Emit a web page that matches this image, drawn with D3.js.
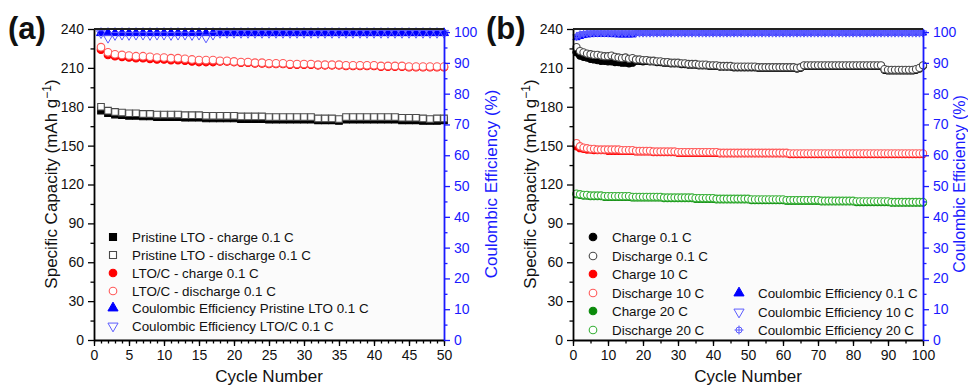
<!DOCTYPE html>
<html>
<head>
<meta charset="utf-8">
<script src="https://cdn.jsdelivr.net/npm/d3@7"></script>
<style>
body { margin: 0; background: #fff; }
text { font-family: "Liberation Sans", Arial, sans-serif; }
</style>
</head>
<body>
<div id="chart"></div>
<script>
// ---- panel (a) data, cycles 1-50 ----
var aPristineCha = [177,175,174,173.5,173,173,172.5,172.5,172,172,
  172,172,171.5,171.5,171.5,171,171,171,171,171,
  170.5,170.5,170.5,170.5,170,170,170,170,170,170,
  170,169.5,169.5,169.5,169,170,170,170,170,170,
  170,170,170,169.5,169.5,169.5,169,169,169,169.5];
var aPristineDis = [180,177,176,175.5,175,175,174.5,174.5,174,174,
  174,174,173.5,173.5,173.5,173,173,173,173,173,
  172.5,172.5,172.5,172.5,172,172,172,172,172,172,
  172,171,171,171,170.5,172,172,172,172,172,
  172,172,172,171.5,171.5,171.5,171,170.5,171,171];
var aCarbonCha = [224,220,219,218.5,218,217.5,217.5,217,216.5,216.5,
  216,216,215.5,215,214.5,214.5,214.5,215,215,214.5,
  214,214,213.5,213.5,213,213,213,212.5,212.5,212.5,
  212.5,212,212,212,212,211.5,211.5,211.5,211.5,211.5,
  211,211,211,211,210.5,210.5,210.5,210.5,210.5,210.5];
var aCarbonDis = [226,222,220.5,220,219.5,219,219,218.5,218,218,
  217.5,217.5,217,216.5,216,216,216,215.5,215.5,215,
  214.5,214.5,214,214,213.5,213.5,213.5,213,213,213,
  213,212.5,212.5,212.5,212.5,212,212,212,212,212,
  211.5,211.5,211.5,211.5,211,211,211,211,211,211];
var aPristineCE = [99.7,99.7,99.7,99.7,99.7,99.7,99.7,99.7,99.7,99.7,
  99.7,99.7,99.7,99.7,99.7,99.7,99.7,99.7,99.7,99.7,
  99.7,99.7,99.7,99.7,99.7,99.7,99.7,99.7,99.7,99.7,
  99.7,99.7,99.7,99.7,99.7,99.7,99.7,99.7,99.7,99.7,
  99.7,99.7,99.7,99.7,99.7,99.7,99.7,99.7,99.7,99.7];
var aCarbonCE = [99.6,98.1,99,99.1,99,99.1,99.1,99,99.1,99.1,
  99,99.1,99.1,99,99.1,98.2,99.1,99.7,99.7,99.7,
  99.7,99.7,99.7,99.7,99.7,99.7,99.7,99.7,99.7,99.7,
  99.7,99.7,99.7,99.7,99.7,99.7,99.7,99.7,99.7,99.7,
  99.7,99.7,99.7,99.7,99.7,99.7,99.7,99.7,99.7,99.7];

// ---- panel (b) data, cycles 1-100 ----
var bCha01 = [222,219.5,218.5,218,217,216.5,216,215.5,215.5,215,
  215,214.5,214.5,214,214,213.5,214,215.5,215.5,215,
  215.5,215,215,214.5,214.5,214,214,213.5,213.5,213.5,
  213,213,212.5,212.5,212.5,212,212,212,211.5,211.5,
  211.5,211,211,211,211,210.5,210.5,210.5,210.5,210.5,
  210.5,210.5,210,210,210,210,210,210,210,210,
  210,210,210,209.5,210,211.5,211.5,211.5,211.5,211.5,
  211.5,211.5,211.5,211.5,211.5,211.5,211.5,211.5,211.5,211.5,
  211.5,211.5,211.5,211.5,211.5,211.5,211.5,211.5,208.5,208,
  208,208,208,208,208,208,208,208.5,209.5,211.5];
var bDis01 = [226,223,222,221,220.5,220,220,219.5,219,219,
  219.5,218.5,218,217.5,218,217,217.5,216.5,216.5,216,
  216,215.5,215.5,215,215,214.5,214.5,214,214,214,
  213.5,213.5,213,213,213,212.5,212.5,212.5,212,212,
  212,211.5,211.5,211.5,211.5,211,211,211,211,211,
  211,211,210.5,210.5,210.5,210.5,210.5,210.5,210.5,210.5,
  210.5,210.5,210.5,210,210.5,212,212,212,212,212,
  212,212,212,212,212,212,212,212,212,212,
  212,212,212,212,212,212,212,212,209,208.5,
  208.5,208.5,208.5,208.5,208.5,208.5,208.5,209,210,212];
var bCha10 = [149.5,148,147.5,147,147,146.5,146.5,146.5,146.5,146,
  146,146,146,146,146,146,146,145.5,145.5,145.5,
  145.5,145.5,145,145,145,145,145,145,145,144.5,
  144.5,144.5,144.5,144.5,144.5,144.5,144.5,144.5,144.5,144.5,
  144.5,144,144,144,144,144,144,144,144,144,
  144,144,144,144,144,144,144,144,144,144,
  144,143.5,143.5,143.5,143.5,143.5,143.5,143.5,143.5,143.5,
  143.5,143.5,143.5,143.5,143.5,143.5,143.5,143.5,143.5,143.5,
  143.5,143.5,143.5,143.5,143.5,143.5,143.5,143.5,143.5,143.5,
  143.5,143.5,143.5,143.5,143.5,143.5,143.5,143.5,143.5,143.5];
var bDis10 = [152,149.5,148.5,148,147.5,147.5,147,147,147,147,
  147,147,147,146.5,146.5,146.5,146.5,146,146,146,
  146,146,145.5,145.5,145.5,145.5,145.5,145.5,145.5,145,
  145,145,145,145,145,145,145,145,145,145,
  145,144.5,144.5,144.5,144.5,144.5,144.5,144.5,144.5,144.5,
  144.5,144.5,144.5,144.5,144.5,144.5,144.5,144.5,144.5,144.5,
  144.5,144,144,144,144,144,144,144,144,144,
  144,144,144,144,144,144,144,144,144,144,
  144,144,144,144,144,144,144,144,144,144,
  144,144,144,144,144,144,144,144,144,144];
var bCha20 = [112.5,112,111.5,111.5,111,111,111,111,110.5,110.5,
  110.5,110.5,110.5,110.5,110.5,110.5,110,110,110,110,
  110,110,110,110,110,109.5,109.5,109.5,109.5,109.5,
  109.5,109.5,109.5,109.5,109,109,109,109,109,109,
  108.5,108.5,108.5,108.5,108.5,108.5,108.5,108.5,108.5,108.5,
  108,108,108,108,108,108,108,108,108,108,
  107.5,107.5,107.5,107.5,107.5,107.5,107.5,107.5,107.5,107.5,
  107,107,107,107,107,107,107,107,107,107,
  106.5,106.5,106.5,106.5,106.5,106.5,106.5,106.5,106.5,106.5,
  106,106,106,106,106,106,106,106,106,106];
var bDis20 = [113,112.5,112,112,111.5,111.5,111.5,111.5,111,111,
  111,111,111,111,111,111,110.5,110.5,110.5,110.5,
  110.5,110.5,110.5,110.5,110.5,110,110,110,110,110,
  110,110,110,110,109.5,109.5,109.5,109.5,109.5,109.5,
  109,109,109,109,109,109,109,109,109,109,
  108.5,108.5,108.5,108.5,108.5,108.5,108.5,108.5,108.5,108.5,
  108,108,108,108,108,108,108,108,108,108,
  107.5,107.5,107.5,107.5,107.5,107.5,107.5,107.5,107.5,107.5,
  107,107,107,107,107,107,107,107,107,107,
  106.5,106.5,106.5,106.5,106.5,106.5,106.5,106.5,106.5,106.5];
var bCE01 = [98.2,98.6,98.9,99.1,99.2,99.3,99.3,99.3,99.3,99.3,
  99.2,99.2,99.1,99.1,99.1,99.1,99.1,99.7,99.7,99.7,
  99.7,99.7,99.7,99.7,99.7,99.7,99.7,99.7,99.7,99.7,
  99.7,99.7,99.7,99.7,99.7,99.7,99.7,99.7,99.7,99.7,
  99.7,99.7,99.7,99.7,99.7,99.7,99.7,99.7,99.7,99.7,
  99.7,99.7,99.7,99.7,99.7,99.7,99.7,99.7,99.7,99.7,
  99.7,99.7,99.7,99.7,99.7,99.7,99.7,99.7,99.7,99.7,
  99.7,99.7,99.7,99.7,99.7,99.7,99.7,99.7,99.7,99.7,
  99.7,99.7,99.7,99.7,99.7,99.7,99.7,99.7,99.7,99.7,
  99.7,99.7,99.7,99.7,99.7,99.7,99.7,99.7,99.7,99.7];
var bCE10 = [98.5,99.2,99.5,99.6,99.7,99.7,99.7,99.7,99.7,99.7,
  99.7,99.7,99.7,99.7,99.7,99.7,99.7,99.7,99.7,99.7,
  99.7,99.7,99.7,99.7,99.7,99.7,99.7,99.7,99.7,99.7,
  99.7,99.7,99.7,99.7,99.7,99.7,99.7,99.7,99.7,99.7,
  99.7,99.7,99.7,99.7,99.7,99.7,99.7,99.7,99.7,99.7,
  99.7,99.7,99.7,99.7,99.7,99.7,99.7,99.7,99.7,99.7,
  99.7,99.7,99.7,99.7,99.7,99.7,99.7,99.7,99.7,99.7,
  99.7,99.7,99.7,99.7,99.7,99.7,99.7,99.7,99.7,99.7,
  99.7,99.7,99.7,99.7,99.7,99.7,99.7,99.7,99.7,99.7,
  99.7,99.7,99.7,99.7,99.7,99.7,99.7,99.7,99.7,99.7];
var bCE20 = [98.8,99.4,99.6,99.7,99.7,99.7,99.7,99.7,99.7,99.7,
  99.7,99.7,99.7,99.7,99.7,99.7,99.7,99.7,99.7,99.7,
  99.7,99.7,99.7,99.7,99.7,99.7,99.7,99.7,99.7,99.7,
  99.7,99.7,99.7,99.7,99.7,99.7,99.7,99.7,99.7,99.7,
  99.7,99.7,99.7,99.7,99.7,99.7,99.7,99.7,99.7,99.7,
  99.7,99.7,99.7,99.7,99.7,99.7,99.7,99.7,99.7,99.7,
  99.7,99.7,99.7,99.7,99.7,99.7,99.7,99.7,99.7,99.7,
  99.7,99.7,99.7,99.7,99.7,99.7,99.7,99.7,99.7,99.7,
  99.7,99.7,99.7,99.7,99.7,99.7,99.7,99.7,99.7,99.7,
  99.7,99.7,99.7,99.7,99.7,99.7,99.7,99.7,99.7,99.7];

var capTicks = [0, 30, 60, 90, 120, 150, 180, 210, 240];
var ceTicks = [0, 10, 20, 30, 40, 50, 60, 70, 80, 90, 100];

var svg = d3.select("#chart").append("svg")
    .attr("width", 968).attr("height", 387);

var blue = "#1a1aff";

function marker(g, shape, x, y, color, filled, size) {
    var fill = filled ? color : (shape == "tri" || shape == "tridown" || shape == "cross" ? "none" : "#fff");
    if (shape == "circle") {
        g.append("circle").attr("cx", x).attr("cy", y).attr("r", size)
            .attr("fill", fill).attr("stroke", color).attr("stroke-width", 1.1);
    } else if (shape == "square") {
        g.append("path").attr("d", d3.symbol().type(d3.symbolSquare).size(size * size * 4)())
            .attr("transform", "translate(" + x + "," + y + ")")
            .attr("fill", fill).attr("stroke", color).attr("stroke-width", 1.1);
    } else if (shape == "tri" || shape == "tridown") {
        g.append("path").attr("d", d3.symbol().type(d3.symbolTriangle).size(size * size * 2.2)())
            .attr("transform", "translate(" + x + "," + y + ")" + (shape == "tridown" ? " rotate(180)" : ""))
            .attr("fill", fill).attr("stroke", color).attr("stroke-width", 1);
    } else if (shape == "cross") {
        g.append("circle").attr("cx", x).attr("cy", y).attr("r", size)
            .attr("fill", "none").attr("stroke", color).attr("stroke-width", 1);
        g.append("path").attr("d", "M" + (x - size - 1.5) + "," + y + "H" + (x + size + 1.5) + "M" + x + "," + (y - size - 1.5) + "V" + (y + size + 1.5))
            .attr("stroke", color).attr("stroke-width", 1);
    }
}

function drawPanel(p) {
    var x = d3.scaleLinear().domain([0, p.xMax]).range([p.left, p.right]);
    var y = d3.scaleLinear().domain([0, 240]).range([340, 29]);
    var y2 = d3.scaleLinear().domain([0, 101]).range([340, 29]);

    svg.append("rect").attr("x", p.left).attr("y", 29)
        .attr("width", p.right - p.left).attr("height", 311).attr("fill", "#fbfbfb");

    // series
    var cycles = d3.range(1, p.xMax + 1);
    p.series.forEach(function (s) {
        var g = svg.append("g");
        var sc = s.ce ? y2 : y;
        s.data.forEach(function (v, i) {
            marker(g, s.shape, x(cycles[i]), sc(v), s.color, s.filled, s.size);
        });
    });

    // minor ticks
    var minorX = d3.range(0, p.xMax + 0.001, p.xMinor);
    svg.append("g").attr("transform", "translate(0,340)")
        .call(d3.axisBottom(x).tickValues(minorX).tickSize(3.5).tickFormat(""))
        .call(function (g) { g.select(".domain").remove(); g.selectAll("line").attr("stroke-width", 1.3); });
    svg.append("g").attr("transform", "translate(" + p.left + ",0)")
        .call(d3.axisLeft(y).tickValues(d3.range(15, 240, 30)).tickSize(3.5).tickFormat(""))
        .call(function (g) { g.select(".domain").remove(); g.selectAll("line").attr("stroke-width", 1.3); });
    svg.append("g").attr("transform", "translate(" + p.right + ",0)")
        .call(d3.axisRight(y2).tickValues(d3.range(5, 100, 10)).tickSize(3.5).tickFormat(""))
        .call(function (g) { g.select(".domain").remove(); g.selectAll("line").attr("stroke", blue).attr("stroke-width", 1.3); });

    // major axes
    var xa = svg.append("g").attr("transform", "translate(0,340)")
        .call(d3.axisBottom(x).tickValues(p.xTicks).tickSize(6).tickSizeOuter(0).tickPadding(4));
    var ya = svg.append("g").attr("transform", "translate(" + p.left + ",0)")
        .call(d3.axisLeft(y).tickValues(capTicks).tickSize(6).tickSizeOuter(0).tickPadding(4));
    var ra = svg.append("g").attr("transform", "translate(" + p.right + ",0)")
        .call(d3.axisRight(y2).tickValues(ceTicks).tickSize(6).tickSizeOuter(0).tickPadding(4));
    [xa, ya].forEach(function (a) {
        a.selectAll("text").attr("font-size", 14).attr("fill", "#111")
            .style("font-family", "'Liberation Sans', Arial, sans-serif");
        a.selectAll("line").attr("stroke-width", 1.3);
        a.select(".domain").attr("stroke-width", 1.8);
    });
    ra.selectAll("text").attr("font-size", 14).attr("fill", blue)
        .style("font-family", "'Liberation Sans', Arial, sans-serif");
    ra.selectAll("line").attr("stroke", blue).attr("stroke-width", 1.3);
    ra.select(".domain").attr("stroke", blue).attr("stroke-width", 1.8);

    svg.append("line").attr("x1", p.left).attr("x2", p.right).attr("y1", 29).attr("y2", 29)
        .attr("stroke", "#222").attr("stroke-width", 1.8);

    // titles
    svg.append("text").attr("x", (p.left + p.right) / 2).attr("y", 382)
        .attr("text-anchor", "middle").attr("font-size", 17).attr("fill", "#111").text("Cycle Number");
    var yt = svg.append("text").attr("transform", "translate(" + p.ylabX + ",184) rotate(-90)")
        .attr("text-anchor", "middle").attr("font-size", 17).attr("fill", "#111");
    yt.append("tspan").text("Specific Capacity (mAh g");
    yt.append("tspan").attr("dy", -6).attr("font-size", 12).text("\u22121");
    yt.append("tspan").attr("dy", 6).text(")");
    svg.append("text").attr("transform", "translate(" + p.y2labX + ",184) rotate(-90)")
        .attr("text-anchor", "middle").attr("font-size", p.y2labSize).attr("fill", blue)
        .text("Coulombic Efficiency (%)");
    svg.append("text").attr("x", p.tagX).attr("y", 39).attr("font-size", 31)
        .attr("font-weight", "bold").attr("fill", "#111").text(p.tag);

    // legend
    p.legend.forEach(function (l) {
        var g = svg.append("g");
        marker(g, l.shape, l.x, l.y, l.color, l.filled, l.size);
        g.append("text").attr("x", l.x + 19).attr("y", l.y + 5).attr("font-size", 13.4)
            .attr("fill", "#111").text(l.text);
    });
}

var cBlack = "#000", cGray = "#4a4a4a", cRed = "#ff0000", cRedO = "#ff5a5a",
    cGreen = "#0a8a0a", cGreenO = "#38b038", cBlueO = "#5c5cff";

drawPanel({
    left: 94, right: 444, xMax: 50, xMinor: 1, xTicks: d3.range(0, 51, 5),
    ylabX: 57, y2labX: 497, y2labSize: 17, tagX: 8, tag: "(a)",
    series: [
        { data: aPristineCha, shape: "square", color: cBlack, filled: true, size: 3.3 },
        { data: aPristineDis, shape: "square", color: cGray, filled: false, size: 3.3 },
        { data: aCarbonCha, shape: "circle", color: cRed, filled: true, size: 3.8 },
        { data: aCarbonDis, shape: "circle", color: cRedO, filled: false, size: 3.8 },
        { data: aPristineCE, shape: "tri", color: "#0000ff", filled: true, size: 4, ce: true },
        { data: aCarbonCE, shape: "tridown", color: cBlueO, filled: false, size: 4, ce: true }
    ],
    legend: [
        { text: "Pristine LTO - charge 0.1 C", shape: "square", color: cBlack, filled: true, size: 3.5, x: 113, y: 237 },
        { text: "Pristine LTO - discharge 0.1 C", shape: "square", color: cGray, filled: false, size: 3.5, x: 113, y: 255 },
        { text: "LTO/C - charge 0.1 C", shape: "circle", color: cRed, filled: true, size: 3.8, x: 113, y: 273 },
        { text: "LTO/C - discharge 0.1 C", shape: "circle", color: cRedO, filled: false, size: 3.8, x: 113, y: 291 },
        { text: "Coulombic Efficiency Pristine LTO 0.1 C", shape: "tri", color: "#0000ff", filled: true, size: 4.5, x: 113, y: 308 },
        { text: "Coulombic Efficiency LTO/C 0.1 C", shape: "tridown", color: cBlueO, filled: false, size: 4.5, x: 113, y: 326 }
    ]
});

drawPanel({
    left: 573, right: 923, xMax: 100, xMinor: 5, xTicks: d3.range(0, 101, 10),
    ylabX: 536, y2labX: 965, y2labSize: 16, tagX: 486, tag: "(b)",
    series: [
        { data: bCha01, shape: "circle", color: cBlack, filled: true, size: 3.6 },
        { data: bDis01, shape: "circle", color: cGray, filled: false, size: 3.6 },
        { data: bCha10, shape: "circle", color: cRed, filled: true, size: 3.6 },
        { data: bDis10, shape: "circle", color: cRedO, filled: false, size: 3.6 },
        { data: bCha20, shape: "circle", color: cGreen, filled: true, size: 3.6 },
        { data: bDis20, shape: "circle", color: cGreenO, filled: false, size: 3.6 },
        { data: bCE01, shape: "tri", color: "#0000ff", filled: true, size: 3.2, ce: true },
        { data: bCE10, shape: "tridown", color: cBlueO, filled: false, size: 3.2, ce: true },
        { data: bCE20, shape: "cross", color: cBlueO, filled: false, size: 2.2, ce: true }
    ],
    legend: [
        { text: "Charge 0.1 C", shape: "circle", color: cBlack, filled: true, size: 3.8, x: 593, y: 237 },
        { text: "Discharge 0.1 C", shape: "circle", color: cGray, filled: false, size: 3.8, x: 593, y: 256 },
        { text: "Charge 10 C", shape: "circle", color: cRed, filled: true, size: 3.8, x: 593, y: 274 },
        { text: "Discharge 10 C", shape: "circle", color: cRedO, filled: false, size: 3.8, x: 593, y: 293 },
        { text: "Charge 20 C", shape: "circle", color: cGreen, filled: true, size: 3.8, x: 593, y: 311 },
        { text: "Discharge 20 C", shape: "circle", color: cGreenO, filled: false, size: 3.8, x: 593, y: 330 },
        { text: "Coulombic Efficiency 0.1 C", shape: "tri", color: "#0000ff", filled: true, size: 4.5, x: 739, y: 293 },
        { text: "Coulombic Efficiency 10 C", shape: "tridown", color: cBlueO, filled: false, size: 4.5, x: 739, y: 312 },
        { text: "Coulombic Efficiency 20 C", shape: "cross", color: cBlueO, filled: false, size: 3, x: 739, y: 330 }
    ]
});
</script>
</body>
</html>
